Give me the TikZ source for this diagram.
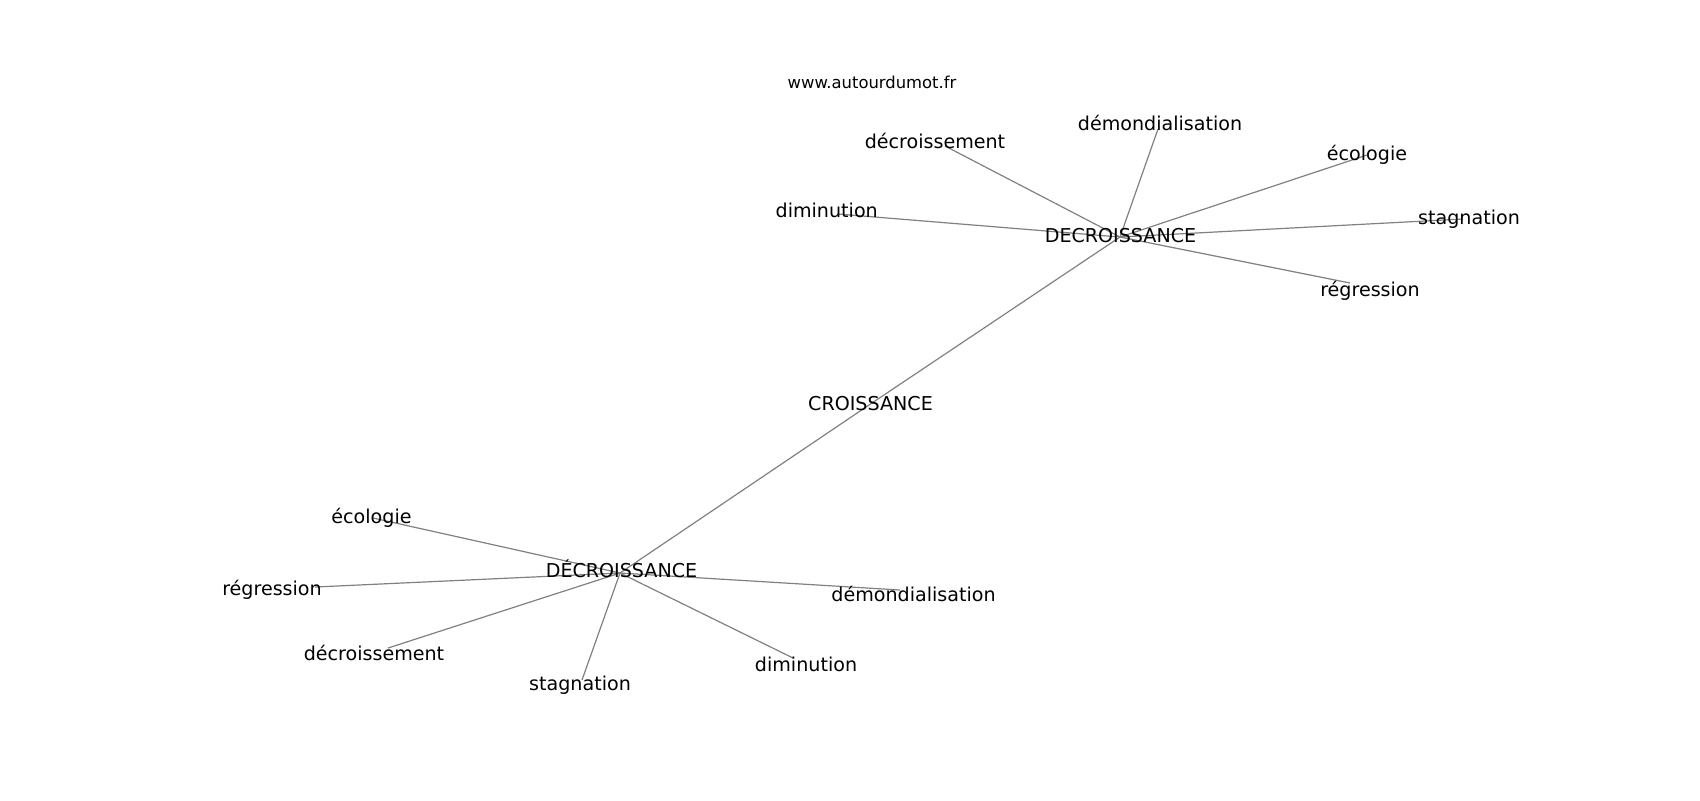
\documentclass[tikz,border=0pt]{standalone}
\usepackage{fontspec}
\setmainfont{DejaVu Sans}
\begin{document}
\begin{tikzpicture}[x=0.5pt,y=-0.5pt,
  lbl/.style={inner sep=0pt,anchor=base,font=\fontsize{9.55}{11}\selectfont},
  url/.style={inner sep=0pt,anchor=base,font=\fontsize{8.2}{10}\selectfont},
  edge/.style={draw=gray,line width=0.6pt}]
\useasboundingbox (0,0) rectangle (1700,800);
% node positions
\coordinate (hubT) at (1120,237);
\coordinate (hubB) at (620,573);
\coordinate (cro) at (869,405);
\coordinate (tDecr) at (945,146);
\coordinate (tDimi) at (838,214);
\coordinate (tDemo) at (1158,129);
\coordinate (tEco) at (1367,155);
\coordinate (tStag) at (1463,219);
\coordinate (tReg) at (1350,283);
\coordinate (bEco) at (373,518);
\coordinate (bReg) at (315,587);
\coordinate (bDecr) at (388,648);
\coordinate (bStag) at (582,680);
\coordinate (bDimi) at (793,658);
\coordinate (bDemo) at (900,590);
% edges
\foreach \n in {tDecr,tDimi,tDemo,tEco,tStag,tReg,cro}
  \draw[edge] (hubT) -- (\n);
\foreach \n in {bEco,bReg,bDecr,bStag,bDimi,bDemo,cro}
  \draw[edge] (hubB) -- (\n);
% labels
\node[url] (lurl) at (872,88) {www.autourdumot.fr};
\node[lbl] (lhubT) at (1120.5,242.7) {DECROISSANCE};
\node[lbl] (lcro) at (870.5,410) {CROISSANCE};
\node[lbl] (lhubB) at (621.5,577) {DÉCROISSANCE};
\node[lbl] (ltDecr) at (935,148) {décroissement};
\node[lbl] (ltDimi) at (826.7,217.5) {diminution};
\node[lbl] (ltDemo) at (1160,130.5) {démondialisation};
\node[lbl] (ltEco) at (1367,160) {écologie};
\node[lbl] (ltStag) at (1469,224) {stagnation};
\node[lbl] (ltReg) at (1370,296) {régression};
\node[lbl] (lbEco) at (371.5,523) {écologie};
\node[lbl] (lbReg) at (272,595) {régression};
\node[lbl] (lbDecr) at (374,660) {décroissement};
\node[lbl] (lbStag) at (580,690) {stagnation};
\node[lbl] (lbDimi) at (806,671) {diminution};
\node[lbl] (lbDemo) at (913.5,601) {démondialisation};
\end{tikzpicture}
\end{document}
